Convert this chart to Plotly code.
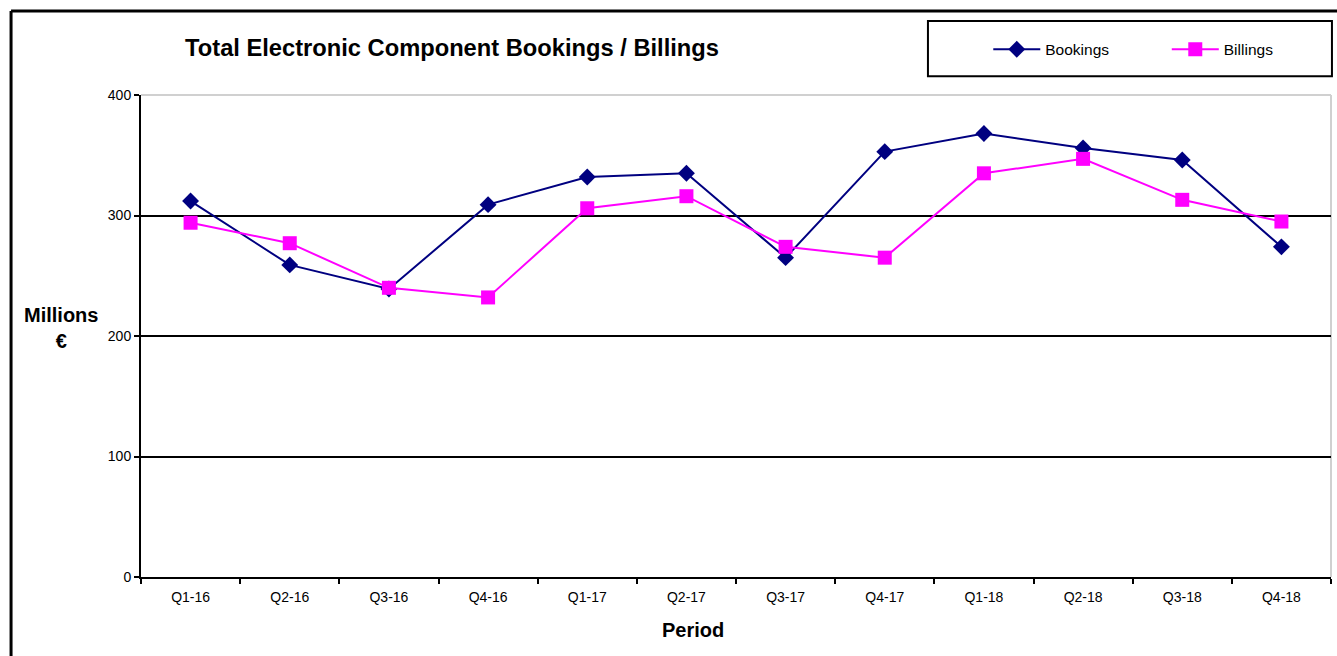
import plotly.graph_objects as go

periods = ["Q1-16", "Q2-16", "Q3-16", "Q4-16", "Q1-17", "Q2-17", "Q3-17", "Q4-17",
           "Q1-18", "Q2-18", "Q3-18", "Q4-18"]
bookings = [312, 259, 239, 309, 332, 335, 265, 353, 368, 356, 346, 274]
billings = [294, 277, 240, 232, 306, 316, 274, 265, 335, 347, 313, 295]
y_ticks = [0, 100, 200, 300, 400]

FONT = "Liberation Sans, Arial, sans-serif"

fig = go.Figure()
fig.add_trace(go.Scatter(
    x=periods, y=bookings, name="Bookings", mode="lines+markers",
    line=dict(color="#000080", width=2),
    marker=dict(symbol="diamond", size=13, color="#000080"),
    legend="legend",
))
fig.add_trace(go.Scatter(
    x=periods, y=billings, name="Billings", mode="lines+markers",
    line=dict(color="#FF00FF", width=2),
    marker=dict(symbol="square", size=14, color="#FF00FF"),
    legend="legend2",
))

leg_common = dict(orientation="h", xanchor="left", y=1.094, yanchor="middle",
                  bgcolor="rgba(0,0,0,0)", borderwidth=0, itemwidth=47,
                  font=dict(family=FONT, size=15.5, color="black"))

fig.update_layout(
    width=1337, height=656,
    margin=dict(l=141, r=6, t=95, b=79),
    paper_bgcolor="white", plot_bgcolor="white",
    font=dict(family=FONT, color="black", size=14),
    title=dict(text="<b>Total Electronic Component Bookings / Billings</b>",
               x=452 / 1337, xref="container", xanchor="center",
               y=1 - 48 / 656, yref="container", yanchor="middle",
               font=dict(family=FONT, size=23.7, color="black")),
    showlegend=True,
    legend=dict(x=0.712, **leg_common),
    legend2=dict(x=0.862, **leg_common),
    xaxis=dict(type="category", range=[-0.5, 11.5], tickson="boundaries",
               ticks="outside", ticklen=5, tickwidth=2, tickcolor="black",
               showline=True, linecolor="black", linewidth=2,
               showgrid=False, zeroline=False, ticklabelstandoff=6,
               tickfont=dict(family=FONT, size=14, color="black")),
    yaxis=dict(range=[0, 400], tickvals=y_ticks, ticks="outside", ticklen=5,
               tickwidth=2, tickcolor="black",
               showline=True, linecolor="black", linewidth=2,
               showgrid=True, gridcolor="black", gridwidth=2, zeroline=False,
               tickfont=dict(family=FONT, size=14, color="black")),
    annotations=[
        dict(text="<b>Millions<br>€</b>", x=-0.067, y=0.517, xref="paper", yref="paper",
             showarrow=False, xanchor="center", yanchor="middle",
             font=dict(family=FONT, size=20, color="black")),
        dict(text="<b>Period</b>", x=0.4639, y=-0.110, xref="paper", yref="paper",
             showarrow=False, xanchor="center", yanchor="middle",
             font=dict(family=FONT, size=20, color="black")),
    ],
    shapes=[
        # plot-area border (top and right) in light grey
        dict(type="line", xref="paper", yref="paper", x0=0, x1=1, y0=1, y1=1,
             line=dict(color="#D0D0D0", width=2), layer="above"),
        dict(type="line", xref="paper", yref="paper", x0=1, x1=1, y0=0, y1=1,
             line=dict(color="#D0D0D0", width=2), layer="below"),
        # legend box
        dict(type="rect", xref="paper", yref="paper", x0=0.6613, x1=1.0008,
             y0=1.039, y1=1.1535, line=dict(color="black", width=2)),
        # outer chart frame (left and top)
        dict(type="line", xref="paper", yref="paper", x0=-0.1092, x1=-0.1092,
             y0=-0.3, y1=1.1743, line=dict(color="black", width=3)),
        dict(type="line", xref="paper", yref="paper", x0=-0.1092, x1=1.02,
             y0=1.1743, y1=1.1743, line=dict(color="black", width=3)),
    ],
)

fig.write_html("out.html",
               config={"displayModeBar": False},
               post_script="document.body.style.margin='0';document.body.style.overflow='hidden';")
